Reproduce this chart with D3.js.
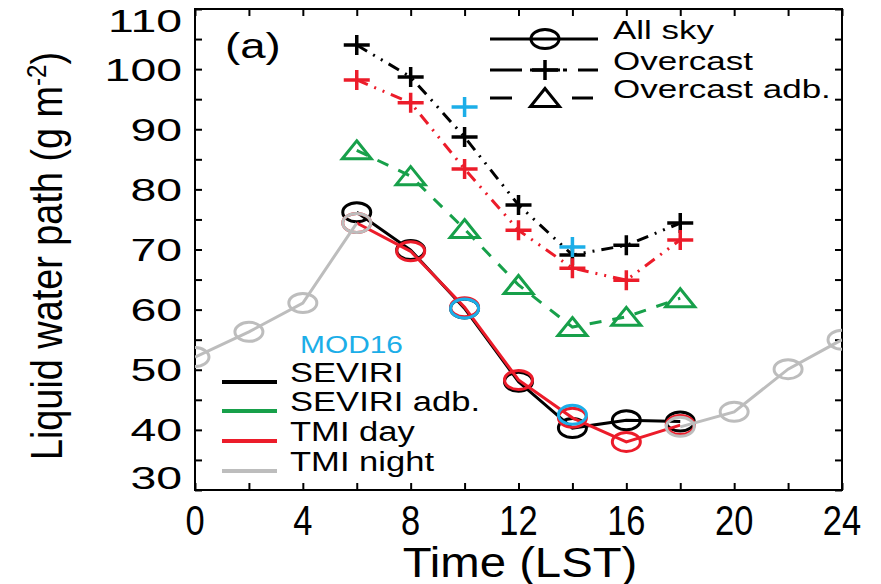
<!DOCTYPE html>
<html>
<head>
<meta charset="utf-8">
<script src="https://cdn.jsdelivr.net/npm/d3@7"></script>
<style>
  body { margin: 0; background: #fff; }
  text { font-family: "Liberation Sans", Arial, sans-serif; fill: #000; }
</style>
</head>
<body>
<svg></svg>
<script>
// values (g m-2)
var dayHours = [6, 8, 10, 12, 14, 16, 18];
var seviriAll = [76.2, 69.9, 60.2, 48.0, 40.3, 41.6, 41.4];
var tmiDayAll = [74.4, 69.7, 60.4, 48.3, 42.0, 38.0, 40.8];
var seviriOvc = [104.0, 98.7, 88.7, 77.4, 69.1, 70.7, 74.4];
var tmiDayOvc = [98.2, 94.4, 83.4, 73.2, 66.9, 64.9, 71.6];
var seviriAdb = [86.5, 82.2, 73.4, 64.1, 57.1, 58.8, 61.9];

var nightHours = [0, 2, 4, 6, 18, 20, 22, 24];
var tmiNightAll = [52.1, 56.3, 61.1, 74.4, 40.5, 43.0, 50.1, 55.0];

var modHours = [10, 14];
var modAll = [60.2, 42.5];
var modOvc = [93.7, 70.4];

var xTicks = [0, 4, 8, 12, 16, 20, 24];
var yTicks = [30, 40, 50, 60, 70, 80, 90, 100, 110];

var w = 881, h = 584;
var pL = 195, pR = 842, pT = 9, pB = 490;

var black = "#000", green = "#17a04a", red = "#ec1c2a", gray = "#bdbdbd", cyan = "#1caee8";

var svg = d3.select("svg").attr("width", w).attr("height", h);

var x = d3.scaleLinear().domain([0, 24]).range([pL, pR]);
var y = d3.scaleLinear().domain([30, 110]).range([pB, pT]);

// stretched text helper
var txt = function(g, s, tx, ty, size, sx, anchor, rot) {
  return g.append("text")
    .attr("transform", "translate(" + tx + "," + ty + ")" + (rot ? " rotate(" + rot + ")" : "") + " scale(" + sx + ",1)")
    .attr("font-size", size)
    .attr("text-anchor", anchor || "start")
    .text(s);
};

svg.append("clipPath").attr("id", "plot")
  .append("rect").attr("x", pL).attr("y", pT).attr("width", pR - pL).attr("height", pB - pT);

// ticks on all four sides, pointing in
var tickAxis = function(axis, tr) {
  var g = svg.append("g").attr("transform", tr).call(axis);
  g.select(".domain").remove();
  g.selectAll("line").attr("stroke", "#000").attr("stroke-width", 2);
  g.selectAll("text").remove();
};
var xt = d3.range(0, 25, 2), yt = d3.range(30, 111, 5);
tickAxis(d3.axisBottom(x).tickValues(xt).tickSize(-7), "translate(0," + pB + ")");
tickAxis(d3.axisTop(x).tickValues(xt).tickSize(-7), "translate(0," + pT + ")");
tickAxis(d3.axisLeft(y).tickValues(yt).tickSize(-7), "translate(" + pL + ",0)");
tickAxis(d3.axisRight(y).tickValues(yt).tickSize(-7), "translate(" + pR + ",0)");

svg.append("rect").attr("x", pL).attr("y", pT).attr("width", pR - pL).attr("height", pB - pT)
  .attr("fill", "none").attr("stroke", "#000").attr("stroke-width", 2);

// tick labels
xTicks.forEach(function(t) { txt(svg, t, x(t), 535, 42, 0.82, "middle"); });
yTicks.forEach(function(t) {
  var cy = Math.max(20, Math.min(477, y(t)));
  txt(svg, t, 182, cy + 11.5, 32, 1.45, "end");
});

// axis titles
txt(svg, "Time (LST)", 520, 577, 43, 1.1, "middle");
var yl = txt(svg, "", 62, 256, 44, 0.86, "middle", -90);
yl.append("tspan").text("Liquid water path (g m");
yl.append("tspan").attr("font-size", 28).attr("dy", -16).text("-2");
yl.append("tspan").attr("dy", 16).text(")");

txt(svg, "(a)", 225, 58, 35, 1.3, "start");

// markers
var marker = function(g, type, cx, cy, color) {
  if (type === "o") {
    g.append("ellipse").attr("cx", cx).attr("cy", cy).attr("rx", 14).attr("ry", 9.5)
      .attr("fill", "none").attr("stroke", color).attr("stroke-width", 3);
  } else if (type === "+") {
    g.append("path").attr("d", "M" + (cx - 13) + "," + cy + "H" + (cx + 13) + "M" + cx + "," + (cy - 10) + "V" + (cy + 10))
      .attr("fill", "none").attr("stroke", color).attr("stroke-width", 3.5);
  } else {
    g.append("path").attr("d", "M" + cx + "," + (cy - 9.5) + "L" + (cx + 14.5) + "," + (cy + 8.5) + "L" + (cx - 14.5) + "," + (cy + 8.5) + "Z")
      .attr("fill", "none").attr("stroke", color).attr("stroke-width", 3).attr("stroke-linejoin", "miter");
  }
};

var plot = svg.append("g").attr("clip-path", "url(#plot)");
var line = d3.line().x(function(d) { return x(d[0]); }).y(function(d) { return y(d[1]); });

var series = function(hours, vals, color, type, dash, noLine) {
  var pts = hours.map(function(t, i) { return [t, vals[i]]; });
  if (!noLine) {
    // split where the record has a gap
    var segs = [[pts[0]]];
    for (var i = 1; i < pts.length; i++) {
      if (pts[i][0] - pts[i - 1][0] > 2) segs.push([]);
      segs[segs.length - 1].push(pts[i]);
    }
    segs.forEach(function(s) {
      plot.append("path").attr("d", line(s)).attr("fill", "none")
        .attr("stroke", color).attr("stroke-width", 3)
        .attr("stroke-dasharray", dash || null);
    });
  }
  pts.forEach(function(p) { marker(plot, type, x(p[0]), y(p[1]), color); });
};

var dashDot = "12,7,2,7,2,7";
var dashed = "12,11";

series(dayHours, seviriAdb, green, "^", dashed);
series(dayHours, seviriOvc, black, "+", dashDot);
series(dayHours, tmiDayOvc, red, "+", dashDot);
series(dayHours, seviriAll, black, "o");
series(dayHours, tmiDayAll, red, "o");
series(nightHours, tmiNightAll, gray, "o");
series(modHours, modAll, cyan, "o", null, true);
series(modHours, modOvc, cyan, "+", null, true);

// legend: line styles
var lg = svg.append("g");
var styles = [["All sky", "o", null, 39], ["Overcast", "+", "32,8,30,3,4,11,20", 70], ["Overcast adb.", "^", "22,60,21,10", 98]];
styles.forEach(function(s) {
  lg.append("line").attr("x1", 490).attr("x2", 598).attr("y1", s[3]).attr("y2", s[3])
    .attr("stroke", "#000").attr("stroke-width", 3).attr("stroke-dasharray", s[2]);
  marker(lg, s[1], 545, s[3], "#000");
  txt(lg, s[0], 613, s[3], 25, 1.4, "start");
});

// legend: data sources
txt(lg, "MOD16", 300, 353, 23, 1.3, "start").style("fill", cyan);
var sources = [["SEVIRI", black, 382], ["SEVIRI adb.", green, 411], ["TMI day", red, 441], ["TMI night", gray, 471]];
sources.forEach(function(s) {
  lg.append("line").attr("x1", 222).attr("x2", 277).attr("y1", s[2]).attr("y2", s[2])
    .attr("stroke", s[1]).attr("stroke-width", 4);
  txt(lg, s[0], 290, s[2], 27, 1.28, "start");
});
</script>
</body>
</html>
